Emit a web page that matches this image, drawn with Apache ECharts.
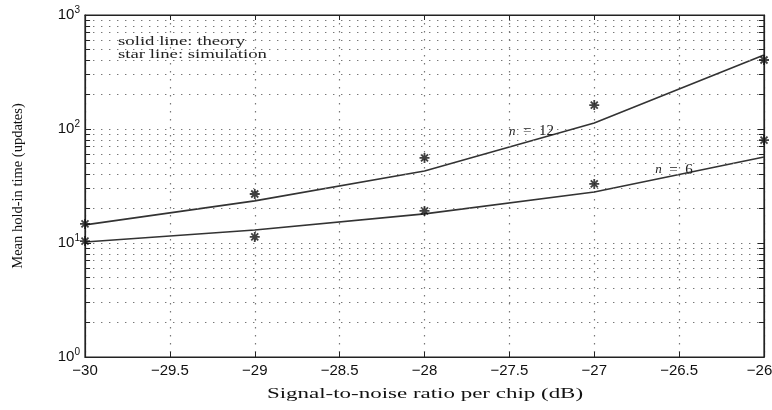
<!DOCTYPE html>
<html>
<head>
<meta charset="utf-8">
<script src="https://cdn.jsdelivr.net/npm/echarts@6/dist/echarts.min.js"></script>
<style>
html,body{margin:0;padding:0;background:#fff;}
#chart{width:772px;height:410px;}
</style>
</head>
<body>
<div id="chart"></div>
<script>
// ---- data ----
const snr = [-30, -29, -28, -27, -26];
const theoryN12 = [14.4, 23.4, 42.8, 113, 446];
const simN12 = [14.7, 26.9, 55.7, 162, 403];
const theoryN6 = [10.2, 13.0, 18.0, 28.0, 56.8];
const simN6 = [10.4, 11.3, 19.1, 33.0, 80];
const xTicks = [-30, -29.5, -29, -28.5, -28, -27.5, -27, -26.5, -26];
const yMajor = [1, 10, 100, 1000];
const yMinor = [2,3,4,5,6,7,8,9,20,30,40,50,60,70,80,90,200,300,400,500,600,700,800,900];
const labelN12 = [-27.37, 95];
const labelN6 = [-26.53, 43.7];

const pair = (xs, ys) => xs.map((x, i) => [x, ys[i]]);
const starPath = 'path://M5,0L5,10M0,5L10,5M1.5,1.5L8.5,8.5M1.5,8.5L8.5,1.5';
const sans = '"Liberation Sans", Arial, sans-serif';
const serif = '"Liberation Serif", "Times New Roman", serif';
const dotted = {color: '#777', type: [1.4, 6.6], width: 1.2};

const chart = echarts.init(document.getElementById('chart'), null, {renderer: 'canvas'});
const lineStyle = {color: '#333', width: 1.7};
const starItem = {color: 'none', borderColor: '#111', borderWidth: 1.8};
const tickLen = 0.03; // minor tick length in x-axis units

chart.setOption({
  animation: false,
  backgroundColor: '#fff',
  grid: {left: 85, right: 8, top: 15, bottom: 53, show: true, borderColor: '#222', borderWidth: 1.2,
    outerBoundsMode: 'none', containLabel: false},
  xAxis: [{
    type: 'value', min: -30, max: -26, interval: 0.5, position: 'bottom',
    axisLine: {show: true, onZero: false, lineStyle: {color: '#222', width: 1.2}},
    axisTick: {show: true, inside: true, length: 5, lineStyle: {color: '#222'}},
    axisLabel: {color: '#111', fontFamily: sans, fontSize: 15, margin: 6,
      formatter: v => {
        const s = String(v).replace('-', '\u2212');
        return v === xTicks[xTicks.length - 1] ? '{m|' + s + '}' : s;
      },
      rich: {m: {fontFamily: sans, fontSize: 15, color: '#111', padding: [0, 9, 0, 0]}}
    },
    splitLine: {show: true, lineStyle: dotted}
  }, {
    type: 'value', min: -30, max: -26, interval: 0.5, position: 'top',
    axisLine: {show: true, onZero: false, lineStyle: {color: '#222', width: 1.2}},
    axisTick: {show: true, inside: true, length: 5, lineStyle: {color: '#222'}},
    axisLabel: {show: false}, splitLine: {show: false}
  }],
  yAxis: [{
    type: 'log', logBase: 10, min: 1, max: 1000, position: 'left',
    axisLine: {show: true, lineStyle: {color: '#222', width: 1.2}},
    axisTick: {show: true, inside: true, length: 6, lineStyle: {color: '#222'}},
    axisLabel: {
      color: '#111', fontFamily: sans, fontSize: 15, margin: 5,
      formatter: v => '10{s|' + Math.round(Math.log10(v)) + '}',
      rich: {s: {fontSize: 10, fontFamily: sans, color: '#111', verticalAlign: 'bottom', padding: [0, 0, 9, 0]}}
    },
    splitLine: {show: true, lineStyle: dotted},
    name: 'Mean hold-in time (updates)', nameLocation: 'middle', nameGap: 59,
    nameTextStyle: {fontFamily: serif, fontSize: 14.5, color: '#111'}
  }, {
    type: 'log', logBase: 10, min: 1, max: 1000, position: 'right',
    axisLine: {show: true, lineStyle: {color: '#222', width: 1.2}},
    axisTick: {show: true, inside: true, length: 6, lineStyle: {color: '#222'}},
    axisLabel: {show: false}, splitLine: {show: false}
  }],
  graphic: [
    {type: 'text', x: 118, y: 35, scaleX: 1.5, style: {text: 'solid line: theory', font: '12.5px ' + serif, fill: '#222'}},
    {type: 'text', x: 118, y: 48, scaleX: 1.5, style: {text: 'star line: simulation', font: '12.5px ' + serif, fill: '#222'}},
    {type: 'text', x: 425, y: 387, scaleX: 1.53, style: {text: 'Signal-to-noise ratio per chip (dB)', font: '15px ' + serif, fill: '#111', textAlign: 'center'}}
  ],
  series: [
    {
      name: 'minor grid', type: 'line', data: [], silent: true,
      markLine: {
        silent: true, symbol: ['none', 'none'], label: {show: false},
        lineStyle: dotted,
        data: yMinor.map(v => ({yAxis: v}))
      }
    },
    {
      name: 'minor ticks', type: 'line', data: [], silent: true,
      markLine: {
        silent: true, symbol: ['none', 'none'], label: {show: false},
        lineStyle: {color: '#222', type: 'solid', width: 1},
        data: yMinor.map(v => [{coord: [-30, v]}, {coord: [-30 + tickLen, v]}])
          .concat(yMinor.map(v => [{coord: [-26 - tickLen, v]}, {coord: [-26, v]}]))
      }
    },
    {
      name: 'theory n=12', type: 'line', data: pair(snr, theoryN12), symbol: 'none',
      lineStyle: lineStyle, z: 3,
      markPoint: {
        symbol: 'rect', symbolSize: 1, itemStyle: {color: 'rgba(0,0,0,0)'},
        label: {show: true, position: 'inside', formatter: '{i|n}  =  12', color: '#222', fontFamily: serif, fontSize: 15,
          rich: {i: {fontStyle: 'italic', fontFamily: serif, fontSize: 13, color: '#222'}}},
        data: [{coord: labelN12}]
      }
    },
    {
      name: 'theory n=6', type: 'line', data: pair(snr, theoryN6), symbol: 'none',
      lineStyle: lineStyle, z: 3,
      markPoint: {
        symbol: 'rect', symbolSize: 1, itemStyle: {color: 'rgba(0,0,0,0)'},
        label: {show: true, position: 'inside', formatter: '{i|n}  =  6', color: '#222', fontFamily: serif, fontSize: 15,
          rich: {i: {fontStyle: 'italic', fontFamily: serif, fontSize: 13, color: '#222'}}},
        data: [{coord: labelN6}]
      }
    },
    {
      name: 'sim n=12', type: 'scatter', data: pair(snr, simN12), symbol: starPath, symbolSize: 10,
      itemStyle: starItem, z: 4
    },
    {
      name: 'sim n=6', type: 'scatter', data: pair(snr, simN6), symbol: starPath, symbolSize: 10,
      itemStyle: starItem, z: 4
    }
  ]
});
</script>
</body>
</html>
